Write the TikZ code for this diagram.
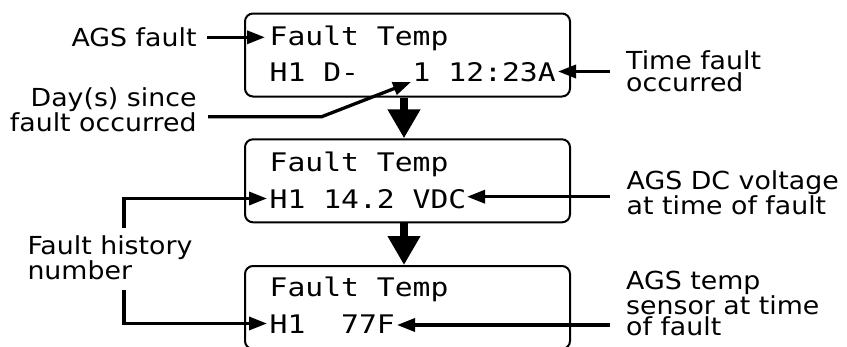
\documentclass[tikz,border=0pt]{standalone}
\usepackage{fontspec}
\setmainfont{DejaVu Sans}[FakeStretch=1.08]
\newfontfamily\lcdfont{DejaVu Sans Mono}[FakeStretch=1.16]
\usetikzlibrary{arrows.meta}
\begin{document}
\begin{tikzpicture}[x=1pt,y=-1pt,
  lcdbox/.style={draw, line width=2pt, rounded corners=8pt, minimum width=325pt, minimum height=83pt, anchor=north west, inner sep=0pt},
  lcdtext/.style={anchor=base west, inner sep=0pt, font=\lcdfont\fontsize{25.6}{25}\selectfont},
  lbl/.style={inner sep=0pt, font=\fontsize{24.8}{21}\selectfont},
  lblwide/.style={font=\fontsize{24.8}{22.5}\selectfont},
  lblL/.style={lbl, anchor=base east, align=right},
  lblR/.style={lbl, anchor=base west, align=left},
  ptr/.style={line width=3.3pt, -{Triangle[length=18pt,width=13pt]}},
  flow/.style={line width=8pt, -{Triangle[length=29pt,width=31pt]}}]
\useasboundingbox (0,0) rectangle (847,346);
\clip (0,0) rectangle (847,346);

% LCD boxes
\node[lcdbox] (box1) at (244,12.5) {};
\node[lcdbox] (box2) at (244,138.3) {};
\node[lcdbox] (box3) at (244,265) {};

% LCD text
\node[lcdtext] (t11) at (269.5,45) {Fault Temp};
\node[lcdtext] (t12) at (269.5,81) {H1 D-\ \ \ 1 12:23A};
\node[lcdtext] (t21) at (269.5,171.7) {Fault Temp};
\node[lcdtext] (t22) at (269.5,208) {H1 14.2 VDC};
\node[lcdtext] (t31) at (269.5,296.7) {Fault Temp};
\node[lcdtext] (t32) at (269.5,333) {H1\ \ 77F};

% flow arrows
\draw[flow] ([xshift=-3.5pt]box1.south) -- ([xshift=-3.5pt]box2.north);
\draw[flow] ([xshift=-3.5pt]box2.south) -- ([xshift=-3.5pt]box3.north);

% labels (multi-line: anchor at baseline of last line)
\node[lblL] (lagsf) at (196.7,46) {AGS fault};
\node[lblL] (lday) at (196.7,131.5) {Day(s) since\\fault occurred};
\node[lblR, lblwide] (lhist) at (27.3,279.2) {Fault history\\number};
\node[lblR, lblwide] (ltime) at (626,91.8) {Time fault\\occurred};
\node[lblR] (ldc) at (626.5,214) {AGS DC voltage\\at time of fault};
\node[lblR] (ltemp) at (626,335.5) {AGS temp\\sensor at time\\of fault};

% connector coordinates
\coordinate (agsS) at (207,37.3);
\coordinate (agsT) at (265,37.3);
\coordinate (dayS) at (208,116.7);
\coordinate (dayK) at (321.7,116.7);
\coordinate (dayT) at (411,82);
\coordinate (timeS) at (610,71.5);
\coordinate (timeT) at (558,71.5);
\coordinate (dcS) at (610,196.7);
\coordinate (dcT) at (467,196.7);
\coordinate (tempS) at (610,325);
\coordinate (tempT) at (397,325);
\coordinate (hUpS) at (124,228.3);
\coordinate (hUpK) at (124,198.5);
\coordinate (hUpT) at (267,198.5);
\coordinate (hDnS) at (124,290);
\coordinate (hDnK) at (124,323.5);
\coordinate (hDnT) at (267,323.5);

% pointers
\draw[ptr] (agsS) -- (agsT);
\draw[ptr] (dayS) -- (dayK) -- (dayT);
\draw[ptr] (timeS) -- (timeT);
\draw[ptr] (dcS) -- (dcT);
\draw[ptr] (tempS) -- (tempT);
\draw[ptr] (hUpS) -- (hUpK) -- (hUpT);
\draw[ptr] (hDnS) -- (hDnK) -- (hDnT);
\end{tikzpicture}
\end{document}
